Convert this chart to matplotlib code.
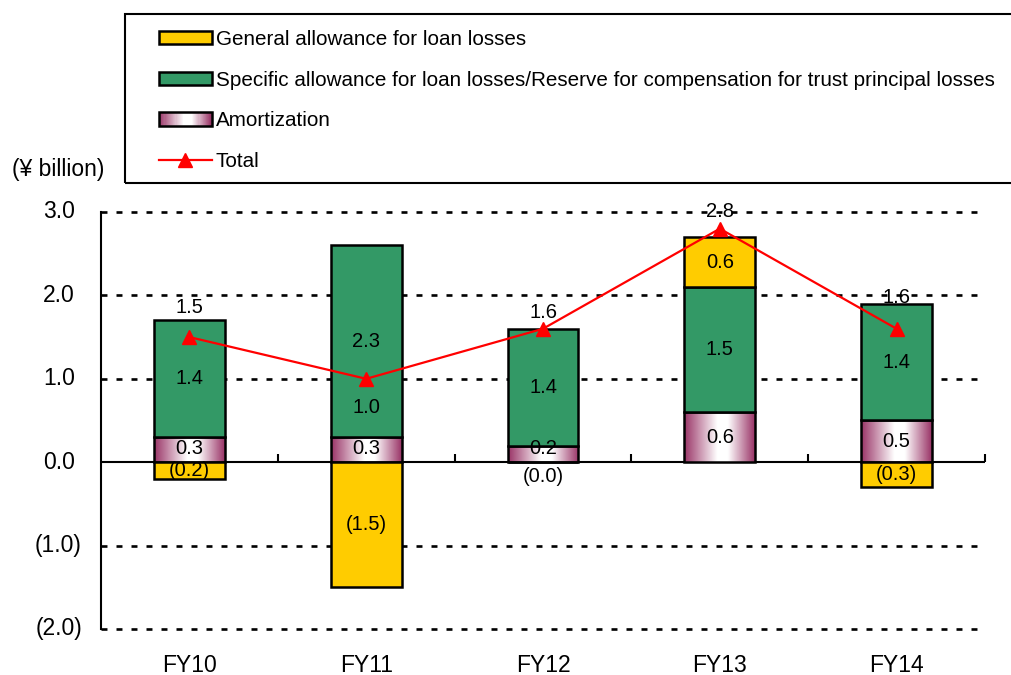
import numpy as np
import matplotlib
matplotlib.use('Agg')
import matplotlib.pyplot as plt
from matplotlib.patches import Rectangle, Patch
from matplotlib.colors import LinearSegmentedColormap
from matplotlib.legend_handler import HandlerBase
from matplotlib.lines import Line2D

# ---------------- data ----------------
categories = ["FY10", "FY11", "FY12", "FY13", "FY14"]
general = [-0.2, -1.5, 0.0, 0.6, -0.3]
specific = [1.4, 2.3, 1.4, 1.5, 1.4]
amortization = [0.3, 0.3, 0.2, 0.6, 0.5]
total = [1.5, 1.0, 1.6, 2.8, 1.6]
yticks = [-2.0, -1.0, 0.0, 1.0, 2.0, 3.0]
series_labels = ["General allowance for loan losses",
                 "Specific allowance for loan losses/Reserve for compensation for trust principal losses",
                 "Amortization",
                 "Total"]

# ---------------- style ----------------
total_label_offsets = [0.36, -0.35, 0.2, 0.2, 0.37]
plt.rcParams['font.family'] = ['Liberation Sans', 'DejaVu Sans']
plt.rcParams['lines.scale_dashes'] = False
FS_VAL = 14.5
FS_LEG = 14.85
FS_AX = 16.5
YELLOW = '#FFCC00'
GREEN = '#339966'
MAROON = '#993366'
EDGE_LW = 1.8
cmap = LinearSegmentedColormap.from_list(
    'amort', [(0.0, MAROON), (0.47, 'white'), (0.62, 'white'), (1.0, MAROON)])

W, H = 1011, 675
fig = plt.figure(figsize=(W / 100, H / 100), dpi=100)
AX_L, AX_R = 101, 985
ax = fig.add_axes([AX_L / W, 1 - 629 / H, (AX_R - AX_L) / W, (629 - 212) / H])

x = np.arange(len(categories))
bw = 0.40


def fmt(v, paren_zero=False):
    if v < 0 or (paren_zero and v == 0):
        return f"({abs(v):.1f})"
    return f"{v:.1f}"


# gridlines
for yv in yticks:
    if yv != 0:
        ax.axhline(yv, color='black', lw=1.9, dashes=(4.3, 6.5), zorder=1, clip_on=False)
ax.axhline(0, color='black', lw=1.5, zorder=1)

# amortization gradient bars
grad = np.linspace(0, 1, 256).reshape(1, -1)
for xi, a in zip(x, amortization):
    ax.imshow(grad, cmap=cmap, extent=[xi - bw / 2, xi + bw / 2, 0, a],
              aspect='auto', zorder=2, interpolation='bilinear')
ax.bar(x, amortization, bw, facecolor='none', edgecolor='black', lw=EDGE_LW, zorder=3)

ax.bar(x, specific, bw, bottom=amortization, color=GREEN, edgecolor='black',
       lw=EDGE_LW, zorder=3)
gen_bottom = [a + s if g > 0 else 0.0 for g, a, s in zip(general, amortization, specific)]
ax.bar(x, general, bw, bottom=gen_bottom, color=YELLOW, edgecolor='black',
       lw=EDGE_LW, zorder=3)

ax.plot(x, total, color='red', lw=1.6, marker='^', ms=10.5, zorder=5)

# value labels
for xi, a in zip(x, amortization):
    ax.text(xi, max(a / 2, 0.16), fmt(a), ha='center', va='center', fontsize=FS_VAL, zorder=6)
for xi, a, s in zip(x, amortization, specific):
    ax.text(xi, a + s / 2, fmt(s), ha='center', va='center', fontsize=FS_VAL, zorder=6)
for xi, g, b in zip(x, general, gen_bottom):
    yy = b + g / 2 if abs(g) >= 0.1 else -0.17
    ax.text(xi, yy, fmt(g, paren_zero=True), ha='center', va='center', fontsize=FS_VAL, zorder=6)
for xi, t, off in zip(x, total, total_label_offsets):
    ax.text(xi, t + off, fmt(t), ha='center', va='center', fontsize=FS_VAL, zorder=6)

# category boundary ticks on zero line
ax.vlines(x[:-1] + 0.5, 0, 0.1, color='black', lw=1.5, zorder=1)
ax.vlines([x[-1] + 0.5], 0, 0.1, color='black', lw=1.5, zorder=1, clip_on=False)

ax.set_xlim(-0.5, len(categories) - 0.5)
ax.set_ylim(-2, 3)
for sp in ['top', 'right', 'bottom']:
    ax.spines[sp].set_visible(False)
ax.spines['left'].set_linewidth(1.5)

# y tick labels (positive numbers padded like "0.0_)")
ax.set_yticks(yticks)
ax.set_yticklabels([])
ax.tick_params(axis='y', length=0)
ytrans = ax.get_yaxis_transform()
for yv in yticks:
    right_px = 82 if yv < 0 else 75
    ax.text((right_px - AX_L) / (AX_R - AX_L), yv, fmt(yv), transform=ytrans,
            ha='right', va='center', fontsize=FS_AX, clip_on=False)

ax.set_xticks(x)
ax.set_xticklabels(categories)
ax.tick_params(axis='x', length=0, pad=18, labelsize=FS_AX)


# legend
class GradHandler(HandlerBase):
    def create_artists(self, legend, orig_handle, xdescent, ydescent, width,
                       height, fontsize, trans):
        arts = []
        n = 48
        for i in range(n):
            arts.append(Rectangle((-xdescent + i * width / n, -ydescent), width / n * 1.05,
                                  height, facecolor=cmap((i + 0.5) / n),
                                  edgecolor='none', transform=trans))
        arts.append(Rectangle((-xdescent, -ydescent), width, height, facecolor='none',
                              edgecolor='black', lw=EDGE_LW, transform=trans))
        return arts


h_gen = Patch(facecolor=YELLOW, edgecolor='black', lw=EDGE_LW)
h_spec = Patch(facecolor=GREEN, edgecolor='black', lw=EDGE_LW)
h_amort = Patch(facecolor='white', edgecolor='black', lw=EDGE_LW)
h_tot = Line2D([], [], color='red', lw=1.6, marker='^', ms=10.5)
fig.legend([h_gen, h_spec, h_amort, h_tot], series_labels,
           handler_map={h_amort: GradHandler()},
           loc='upper left', bbox_to_anchor=(159 / W, 1 - 30 / H),
           frameon=False, borderpad=0, borderaxespad=0, fontsize=FS_LEG,
           handlelength=2.55, handleheight=0.63, handletextpad=0.2, labelspacing=1.05)

fig.patches.append(Rectangle((125 / W, 1 - 183 / H), (1030 - 125) / W, (183 - 14) / H,
                             transform=fig.transFigure, fill=False,
                             edgecolor='black', lw=1.5))

fig.text(12 / W, 1 - 170 / H, "(¥ billion)", ha='left', va='center', fontsize=FS_AX)

fig.savefig('out.png', dpi=100)
